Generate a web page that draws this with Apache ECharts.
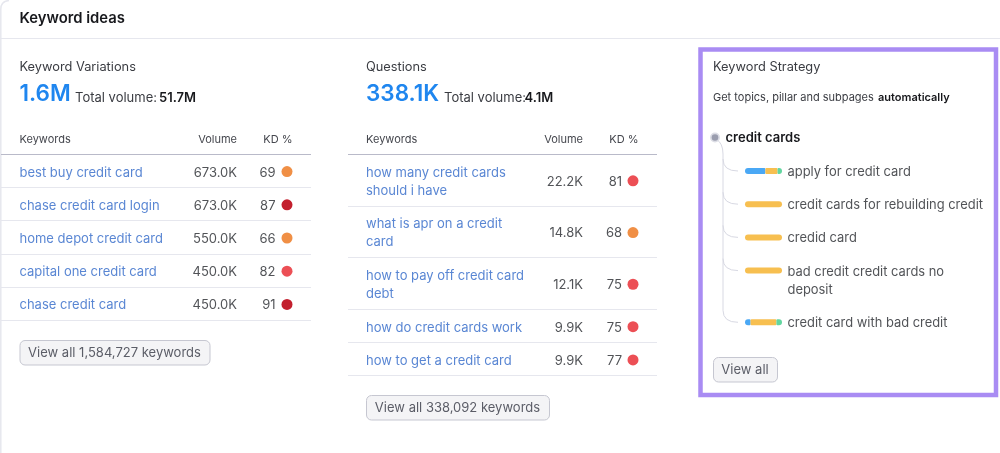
<!DOCTYPE html>
<html>
<head>
<meta charset="utf-8">
<style>
  html, body { margin: 0; padding: 0; background: #fff; }
  #chart { width: 1000px; height: 453px; }
</style>
<script src="https://cdn.jsdelivr.net/npm/echarts@6/dist/echarts.min.js"></script>
</head>
<body>
<div id="chart"></div>
<script>
// keyword variations table
const variationKeywords = ['best buy credit card', 'chase credit card login', 'home depot credit card', 'capital one credit card', 'chase credit card']
const variationVolumes = ['673.0K', '673.0K', '550.0K', '450.0K', '450.0K']
const variationKd = [69, 87, 66, 82, 91]

// questions table
const questionKeywords = ['how many credit cards\nshould i have', 'what is apr on a credit\ncard', 'how to pay off credit card\ndebt', 'how do credit cards work', 'how to get a credit card']
const questionVolumes = ['22.2K', '14.8K', '12.1K', '9.9K', '9.9K']
const questionKd = [81, 68, 75, 75, 77]

// keyword strategy, bar shares per topic
const strategyTopics = ['apply for credit card', 'credit cards for rebuilding credit', 'credid card', 'bad credit credit cards no\ndeposit', 'credit card with bad credit']
const intentBlue = [55, 0, 0, 0, 15]
const intentYellow = [33, 100, 100, 100, 70]
const intentGreen = [12, 0, 0, 0, 15]
const intentColors = ['#4aa8f5', '#f7bf50', '#62d6a0']

const FONT = 'Inter'
const TEXT = '#26282d'
const LINK = '#3068c8'
const RULE = '#e6e7ee'

function kdColor(kd) {
  if (kd >= 85) return '#c3202e'
  if (kd >= 70) return '#ec4f55'
  return '#f08f45'
}

// a row is 33px tall, each extra text line adds about 18px
function rowsFrom(labels, top) {
  let y = top
  return labels.map(label => {
    const h = 33.2 + (label.split('\n').length - 1) * 18.5
    const row = { top: y, center: y + h / 2 + 1, bottom: y + h }
    y += h
    return row
  })
}

function textSeries(name, points, position, style) {
  return {
    name,
    type: 'scatter',
    silent: true,
    symbolSize: 0,
    data: points,
    label: Object.assign({
      show: true,
      position,
      distance: 0,
      fontFamily: FONT,
      fontSize: 13,
      lineHeight: 18,
      color: TEXT,
      formatter: p => p.data[2]
    }, style)
  }
}

function tableSeries(id, labels, volumes, kd, rows, x) {
  return [
    textSeries(id + ' keywords', labels.map((l, i) => [x.keyword, rows[i].center, l]), 'right', { color: LINK, offset: [0, 1] }),
    textSeries(id + ' volume', volumes.map((v, i) => [x.volume, rows[i].center, v]), 'left', { offset: [0, 1] }),
    textSeries(id + ' kd', kd.map((v, i) => [x.kd, rows[i].center, String(v)]), 'left', { offset: [0, 1] }),
    {
      name: id + ' kd dot',
      type: 'scatter',
      silent: true,
      symbolSize: 11,
      data: kd.map((v, i) => ({ value: [x.dot, rows[i].center], itemStyle: { color: kdColor(v), opacity: 1 } }))
    }
  ]
}

function txt(x, y, text, fontSize, fill, fontWeight, align) {
  return {
    type: 'text', silent: true,
    style: { x, y, text, fontSize, fill, fontWeight: fontWeight || 400, fontFamily: FONT, align: align || 'left', verticalAlign: 'middle' }
  }
}
function hline(x1, x2, y, color) {
  return { type: 'line', silent: true, shape: { x1, x2, y1: y, y2: y }, style: { stroke: color || RULE, lineWidth: 1 } }
}
function curve(x1, y1, cpx1, cpy1, x2, y2, color, lineWidth) {
  return { type: 'bezierCurve', silent: true, shape: { x1, y1, cpx1, cpy1, x2, y2 }, style: { fill: 'none', stroke: color, lineWidth: lineWidth || 1 } }
}
function button(x, y, w, label) {
  return [
    { type: 'rect', silent: true, shape: { x: x + 0.5, y: y + 0.5, width: w, height: 24.5, r: 5 }, style: { fill: '#f4f4f6', stroke: '#c6c7d1', lineWidth: 1 } },
    txt(x + w / 2, y + 13.5, label, 13, '#5b5d67', 400, 'center')
  ]
}

const variationRows = rowsFrom(variationKeywords, 154)
const questionRows = rowsFrom(questionKeywords, 154)
const strategyRows = rowsFrom(strategyTopics, 154.5)

// first text line of a strategy row, the bar sits next to it
function strategyBarY(i) {
  return strategyRows[i].top + 16.5
}

function tableChrome(x0, x1, rows, xs) {
  return [
    txt(xs.keyword, 139.5, 'Keywords', 11, '#45474e'),
    txt(xs.volume, 139.5, 'Volume', 11, '#45474e', 400, 'right'),
    txt(xs.dot + 5.5, 139.5, 'KD %', 11, '#45474e', 400, 'right'),
    hline(x0, x1, 154.5, '#b9bac9')
  ].concat(rows.map(r => hline(x0, x1, Math.round(r.bottom) + 0.5)))
}

const xVar = { keyword: 19.5, volume: 237, kd: 275.5, dot: 287 }
const xQue = { keyword: 366, volume: 583, kd: 622, dot: 633 }

const graphics = [
  // panel frame
  curve(9, 0.5, 1, 1, 0.8, 9, RULE, 1.5),
  { type: 'line', silent: true, shape: { x1: 0.8, y1: 9, x2: 0.8, y2: 453 }, style: { stroke: RULE, lineWidth: 1.5 } },
  hline(0, 1000, 38.5),
  txt(19.5, 18.5, 'Keyword ideas', 14.8, '#17181c', 600),

  txt(19.5, 67.5, 'Keyword Variations', 12.8, '#3a3c42'),
  txt(19.5, 94.5, '1.6M', 22.5, '#1f86ef', 600),
  txt(75, 98, 'Total volume:', 13, '#3a3c42'),
  txt(159, 98, '51.7M', 13, '#17181c', 600),

  txt(366, 67.5, 'Questions', 12.8, '#3a3c42'),
  txt(366, 94.5, '338.1K', 22.5, '#1f86ef', 600),
  txt(444, 98, 'Total volume:', 13, '#3a3c42'),
  txt(524.5, 98, '4.1M', 13, '#17181c', 600),

  ...tableChrome(1, 311, variationRows, xVar),
  ...tableChrome(348, 657, questionRows, xQue),
  ...button(19.5, 340, 190, 'View all 1,584,727 keywords'),
  ...button(366, 395, 183, 'View all 338,092 keywords'),

  // keyword strategy box
  { type: 'rect', silent: true, shape: { x: 700.5, y: 49.5, width: 295.5, height: 345.5 }, style: { fill: 'none', stroke: '#a98cf3', lineWidth: 4.5 } },
  txt(713, 67.5, 'Keyword Strategy', 12.8, '#3a3c42'),
  txt(713, 97.5, 'Get topics, pillar and subpages', 11, '#3a3c42'),
  txt(878, 97.5, 'automatically', 11, '#17181c', 600),
  txt(725.5, 138, 'credit cards', 13, '#17181c', 600),
  curve(716, 139, 723, 143, 723, 154, '#d8d9e3'),
  { type: 'line', silent: true, shape: { x1: 723, y1: 154, x2: 723, y2: strategyBarY(4) - 12 }, style: { stroke: '#d8d9e3', lineWidth: 1 } },
  ...strategyRows.map((r, i) => curve(723, strategyBarY(i) - 12, 723, strategyBarY(i), 738, strategyBarY(i), '#d8d9e3')),
  { type: 'circle', silent: true, shape: { cx: 715, cy: 137.5, r: 5 }, style: { fill: '#dcdde5' } },
  { type: 'circle', silent: true, shape: { cx: 715, cy: 137.5, r: 3.3 }, style: { fill: '#9a9dae' } },
  ...button(713, 357, 64, 'View all')
]

// one tiny stacked bar grid per topic
const barGrids = strategyTopics.map((t, i) => ({ left: 745, width: 37, top: strategyBarY(i) - 4, height: 8 }))
const barX = barGrids.map((g, i) => ({ type: 'value', min: 0, max: 100, show: false, gridIndex: i + 1 }))
const barY = barGrids.map((g, i) => ({ type: 'category', data: [strategyTopics[i]], show: false, gridIndex: i + 1 }))
const barSeries = []
strategyTopics.forEach((t, i) => {
  const parts = [intentBlue[i], intentYellow[i], intentGreen[i]]
  parts.forEach((v, j) => {
    if (!v) return
    const first = parts.slice(0, j).every(p => !p)
    const last = parts.slice(j + 1).every(p => !p)
    barSeries.push({
      name: t + ' ' + j,
      type: 'bar',
      silent: true,
      stack: 'topic' + i,
      xAxisIndex: i + 1,
      yAxisIndex: i + 1,
      barWidth: 6,
      data: [v],
      itemStyle: {
        color: intentColors[j],
        borderRadius: [first ? 3 : 1, last ? 3 : 1, last ? 3 : 1, first ? 3 : 1]
      }
    })
  })
})

const myChart = echarts.init(document.getElementById('chart'), null, { renderer: 'canvas' })
myChart.setOption({
  animation: false,
  backgroundColor: '#fff',
  textStyle: { fontFamily: FONT },
  grid: [{ left: 0, top: 0, width: 1000, height: 453 }].concat(barGrids),
  xAxis: [{ type: 'value', min: 0, max: 1000, show: false, gridIndex: 0 }].concat(barX),
  yAxis: [{ type: 'value', min: 0, max: 453, inverse: true, show: false, gridIndex: 0 }].concat(barY),
  graphic: graphics,
  series: [
    ...tableSeries('variations', variationKeywords, variationVolumes, variationKd, variationRows, xVar),
    ...tableSeries('questions', questionKeywords, questionVolumes, questionKd, questionRows, xQue),
    textSeries('topics', strategyTopics.map((t, i) => [787.5, strategyRows[i].center, t]), 'right', { fontSize: 12.9 }),
    ...barSeries
  ]
})
</script>
</body>
</html>
